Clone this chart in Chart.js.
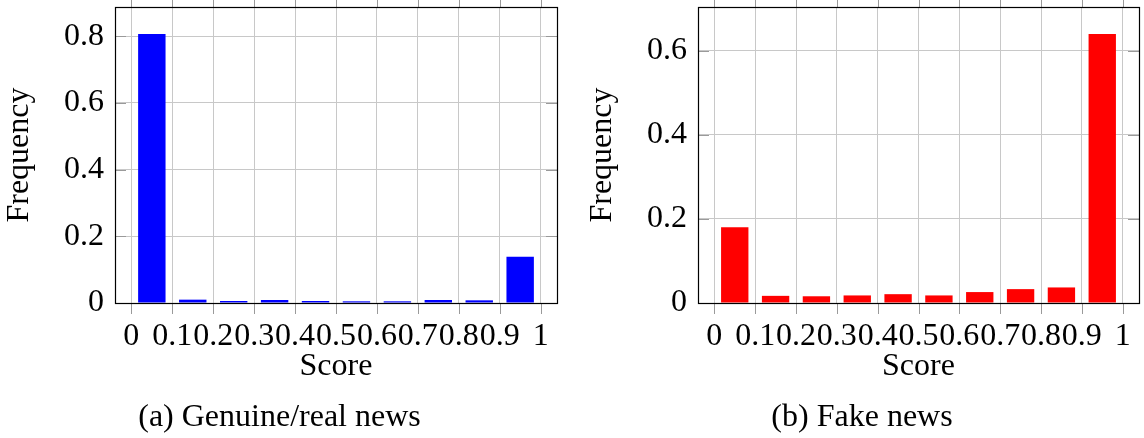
<!DOCTYPE html>
<html>
<head>
<meta charset="utf-8">
<script src="https://cdn.jsdelivr.net/npm/chart.js@4.4.1/dist/chart.umd.min.js"></script>
<style>
  html, body { margin: 0; padding: 0; background: #fff; }
  body { width: 1144px; height: 438px; position: relative; overflow: hidden; font-family: 'Liberation Serif', serif; }
  .panel { position: absolute; top: 0; width: 572px; height: 438px; }
  .caption { position: absolute; top: 399px; font-size: 32px; line-height: 32px; white-space: nowrap; transform: translateX(-50%); color: #000; }
</style>
</head>
<body>
<div class="panel" style="left:0"><canvas id="c1" width="572" height="438"></canvas></div>
<div class="panel" style="left:572px"><canvas id="c2" width="572" height="438"></canvas></div>
<div class="caption" style="left:279.5px">(a) Genuine/real news</div>
<div class="caption" style="left:862px">(b) Fake news</div>
<script>
// ---- data ----
const scoreBins = [0.05, 0.15, 0.25, 0.35, 0.45, 0.55, 0.65, 0.75, 0.85, 0.95];
const genuineFreq = [0.807, 0.010, 0.006, 0.009, 0.006, 0.005, 0.005, 0.009, 0.008, 0.139];
const fakeFreq = [0.180, 0.017, 0.016, 0.018, 0.021, 0.018, 0.026, 0.033, 0.037, 0.640];
const xTickValues = [0, 0.1, 0.2, 0.3, 0.4, 0.5, 0.6, 0.7, 0.8, 0.9, 1];
const xTickLabels = ['0', '0.1', '0.2', '0.3', '0.4', '0.5', '0.6', '0.7', '0.8', '0.9', '1'];
const yTicksGenuine = [0, 0.2, 0.4, 0.6, 0.8];
const yTickLabelsGenuine = ['0', '0.2', '0.4', '0.6', '0.8'];
const yTicksFake = [0, 0.2, 0.4, 0.6];
const yTickLabelsFake = ['0', '0.2', '0.4', '0.6'];
const xAxisTitle = 'Score';
const yAxisTitle = 'Frequency';

const FONT = { family: "'Liberation Serif', serif", size: 32 };

const framePlugin = {
  id: 'frame',
  afterDatasetsDraw(chart) {
    const { ctx, chartArea: { left, right, top, bottom }, scales: { x, y } } = chart;
    ctx.save();
    ctx.lineWidth = 1;
    ctx.strokeStyle = '#9a9a9a';
    ctx.beginPath();
    x.ticks.forEach(t => {
      const px = Math.round(x.getPixelForValue(t.value)) + 0.5;
      ctx.moveTo(px, bottom); ctx.lineTo(px, bottom + 11);
      ctx.moveTo(px, top - 11); ctx.lineTo(px, top);
    });
    y.ticks.forEach(t => {
      const py = Math.round(y.getPixelForValue(t.value)) + 0.5;
      ctx.moveTo(left, py); ctx.lineTo(left + 11, py);
      ctx.moveTo(right - 11, py); ctx.lineTo(right, py);
    });
    ctx.stroke();
    ctx.strokeStyle = '#000';
    ctx.lineWidth = 1.2;
    ctx.strokeRect(Math.round(left) + 0.5, Math.round(top) + 0.5, Math.round(right) - Math.round(left), Math.round(bottom) - Math.round(top));
    ctx.restore();
  }
};

function makeChart(id, values, color, yMax, yTicks, yLabels, padLeft, padRight) {
  return new Chart(document.getElementById(id), {
    type: 'bar',
    data: {
      datasets: [{
        data: scoreBins.map((b, i) => ({ x: b, y: values[i] })),
        backgroundColor: color,
        borderWidth: 0,
        barPercentage: 0.67,
        categoryPercentage: 1.0
      }]
    },
    options: {
      responsive: false,
      animation: false,
      events: [],
      layout: { padding: { top: 7, right: padRight, left: padLeft, bottom: 51 } },
      plugins: { legend: { display: false }, tooltip: { enabled: false } },
      scales: {
        x: {
          type: 'linear',
          offset: false,
          min: -0.04, max: 1.04,
          afterBuildTicks: s => { s.ticks = xTickValues.map(v => ({ value: v })); },
          afterFit: s => { s.height = 84; s.paddingLeft = 0; s.paddingRight = 0; },
          ticks: {
            autoSkip: false, maxRotation: 0, minRotation: 0,
            padding: 14, color: '#000', font: FONT,
            callback: (v, i) => xTickLabels[i]
          },
          grid: { color: '#c8c8c8', lineWidth: 1, drawTicks: false, offset: false },
          border: { display: false },
          title: { display: true, text: xAxisTitle, color: '#000', font: FONT, padding: { top: 0, bottom: 1 } }
        },
        y: {
          min: 0, max: yMax,
          afterBuildTicks: s => { s.ticks = yTicks.map(v => ({ value: v })); },
          afterFit: s => { s.width = 115; s.paddingTop = 0; s.paddingBottom = 0; },
          ticks: {
            padding: 11, color: '#000', font: FONT,
            callback: (v, i) => yLabels[i]
          },
          grid: { color: '#c8c8c8', lineWidth: 1, drawTicks: false },
          border: { display: false },
          title: { display: true, text: yAxisTitle, color: '#000', font: FONT, padding: { top: 0, bottom: 0 } }
        }
      }
    },
    plugins: [framePlugin]
  });
}

makeChart('c1', genuineFreq, '#0000ff', 0.8877, yTicksGenuine, yTickLabelsGenuine, 0, 15);
makeChart('c2', fakeFreq, '#ff0000', 0.704, yTicksFake, yTickLabelsFake, 11, 5);
</script>
</body>
</html>
